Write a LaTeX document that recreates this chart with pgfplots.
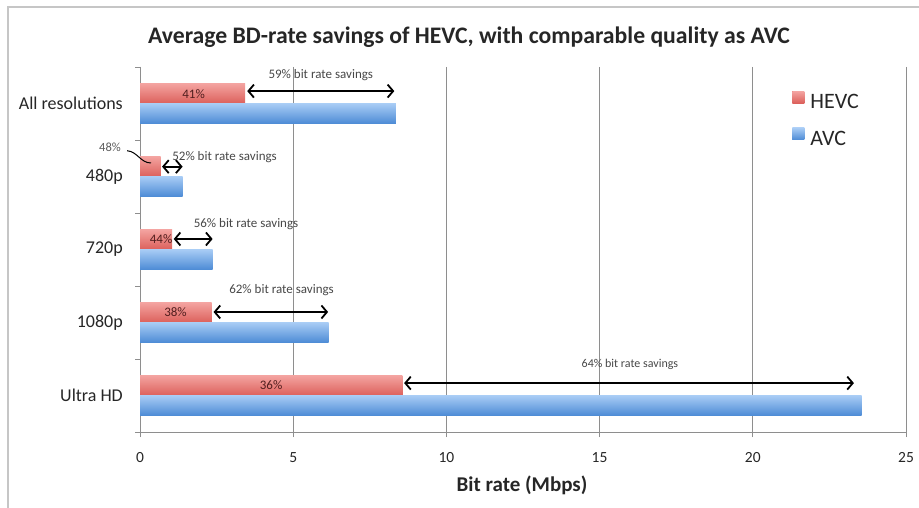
\documentclass[border=0pt]{standalone}
\usepackage{fontspec}
\setmainfont{Carlito}
\usepackage{pgfplots}
\pgfplotsset{compat=1.18}
\usetikzlibrary{arrows.meta}
\definecolor{gridgray}{HTML}{8E8E8E}
\definecolor{hevcTop}{HTML}{F4A5A2}
\definecolor{hevcBot}{HTML}{DC605B}
\definecolor{avcTop}{HTML}{A8CCF5}
\definecolor{avcBot}{HTML}{4B8AD5}
\definecolor{txt}{HTML}{262626}
\begin{document}
\begin{tikzpicture}[x=1pt,y=1pt]
\useasboundingbox (0,0) rectangle (919,508);
\draw[gray!45, line width=1.2pt] (8,0) -- (8,501) -- (919,501);
\node[font=\bfseries\fontsize{23.7}{23.7}\selectfont, text=txt] at (469,471) {Average BD-rate savings of HEVC, with comparable quality as AVC};
\node[font=\bfseries\fontsize{21}{21}\selectfont, text=txt] at (522,23) {Bit rate (Mbps)};
\begin{axis}[
  at={(140pt,76pt)}, anchor=south west,
  scale only axis, width=766pt, height=365pt,
  xmin=0, xmax=25, ymin=-0.5, ymax=4.5, y dir=reverse,
  xbar, bar width=0.28,
  clip=false,
  axis x line*=bottom, axis y line*=left,
  axis line style={gridgray, line width=0.9pt, -},
  xtick={0,5,...,25},
  ytick={-0.5,0.5,...,4.5},
  yticklabels={},
  extra y ticks={0,1,2,3,4},
  extra y tick labels={All resolutions,480p,720p,1080p,Ultra HD},
  extra y tick style={major tick length=0pt,
    yticklabel style={font=\fontsize{18}{18}\selectfont, text=txt, inner sep=0pt, anchor=east, xshift=-17pt}},
  xmajorgrids, major grid style={gridgray, line width=0.9pt},
  tick style={gridgray, line width=0.9pt},
  major tick length=5pt, tick align=outside,
  /pgf/number format/assume math mode=true,
  xticklabel style={font=\fontsize{15.5}{15.5}\selectfont, text=txt, inner sep=0pt, anchor=north, yshift=-15pt},
  legend style={at={(axis description cs:0.8475,0.94)}, anchor=north west, draw=none, fill=none,
    font=\fontsize{22}{22}\selectfont, row sep=16pt, text=txt, legend cell align=left},
]
% HEVC and AVC bars (one plot per bar so that each bar gets its own shading)
\addplot[xbar, bar shift=-0.14, draw=none, top color=hevcTop, bottom color=hevcBot,
  legend image code/.code={\path[draw=none, fill=hevcBot!85!white] (0pt,-1pt) rectangle (12pt,11pt); \path (0pt,0pt) -- (16pt,0pt);}]
  coordinates {(3.43,0)};
\addlegendentry{HEVC}
\addplot[xbar, bar shift=0.14, draw=none, top color=avcTop, bottom color=avcBot,
  legend image code/.code={\path[draw=none, fill=avcBot!80!white] (0pt,-1pt) rectangle (12pt,11pt); \path (0pt,0pt) -- (16pt,0pt);}]
  coordinates {(8.35,0)};
\addlegendentry{AVC}
\addplot[xbar, bar shift=-0.14, draw=none, top color=hevcTop, bottom color=hevcBot, forget plot] coordinates {(0.67,1)};
\addplot[xbar, bar shift=-0.14, draw=none, top color=hevcTop, bottom color=hevcBot, forget plot] coordinates {(1.05,2)};
\addplot[xbar, bar shift=-0.14, draw=none, top color=hevcTop, bottom color=hevcBot, forget plot] coordinates {(2.34,3)};
\addplot[xbar, bar shift=-0.14, draw=none, top color=hevcTop, bottom color=hevcBot, forget plot] coordinates {(8.56,4)};
\addplot[xbar, bar shift=0.14, draw=none, top color=avcTop, bottom color=avcBot, forget plot] coordinates {(1.39,1)};
\addplot[xbar, bar shift=0.14, draw=none, top color=avcTop, bottom color=avcBot, forget plot] coordinates {(2.37,2)};
\addplot[xbar, bar shift=0.14, draw=none, top color=avcTop, bottom color=avcBot, forget plot] coordinates {(6.16,3)};
\addplot[xbar, bar shift=0.14, draw=none, top color=avcTop, bottom color=avcBot, forget plot] coordinates {(23.55,4)};

% savings arrows
\tikzset{sav/.style={black, line width=1.8pt, {Straight Barb[length=5.5pt,width=13pt]}-{Straight Barb[length=5.5pt,width=13pt]}},
         savtxt/.style={font=\fontsize{13}{13}\selectfont, text=txt!85!white, inner sep=0pt},
         pct/.style={font=\fontsize{13}{13}\selectfont, text=txt!80!red, inner sep=0pt}}
\draw[sav] (axis cs:3.50,-0.17) -- (axis cs:8.30,-0.17);
\node[savtxt] at (axis cs:5.90,-0.39) {59\% bit rate savings};
\draw[sav] (axis cs:0.72,0.865) -- (axis cs:1.39,0.865);
\node[savtxt] at (axis cs:2.76,0.73) {52\% bit rate savings};
\draw[sav] (axis cs:1.10,1.856) -- (axis cs:2.37,1.856);
\node[savtxt] at (axis cs:3.46,1.65) {56\% bit rate savings};
\draw[sav] (axis cs:2.40,2.856) -- (axis cs:6.14,2.856);
\node[savtxt] at (axis cs:4.62,2.555) {62\% bit rate savings};
\draw[sav] (axis cs:8.62,3.83) -- (axis cs:23.30,3.83);
\node[savtxt, font=\fontsize{12}{12}\selectfont] at (axis cs:15.99,3.57) {64\% bit rate savings};

% percent labels
\node[pct] at (axis cs:1.75,-0.13) {41\%};
\node[pct] at (axis cs:0.69,1.86) {44\%};
\node[pct] at (axis cs:1.16,2.86) {38\%};
\node[pct] at (axis cs:4.28,3.86) {36\%};
\node[pct, text=txt!75!white, font=\fontsize{12.5}{12.5}\selectfont] at (axis cs:-0.98,0.596) {48\%};
\draw[black, line width=1pt] (axis cs:-0.42,0.647) to[out=-5,in=180] (axis cs:0.36,0.815);
\end{axis}
\end{tikzpicture}
\end{document}
